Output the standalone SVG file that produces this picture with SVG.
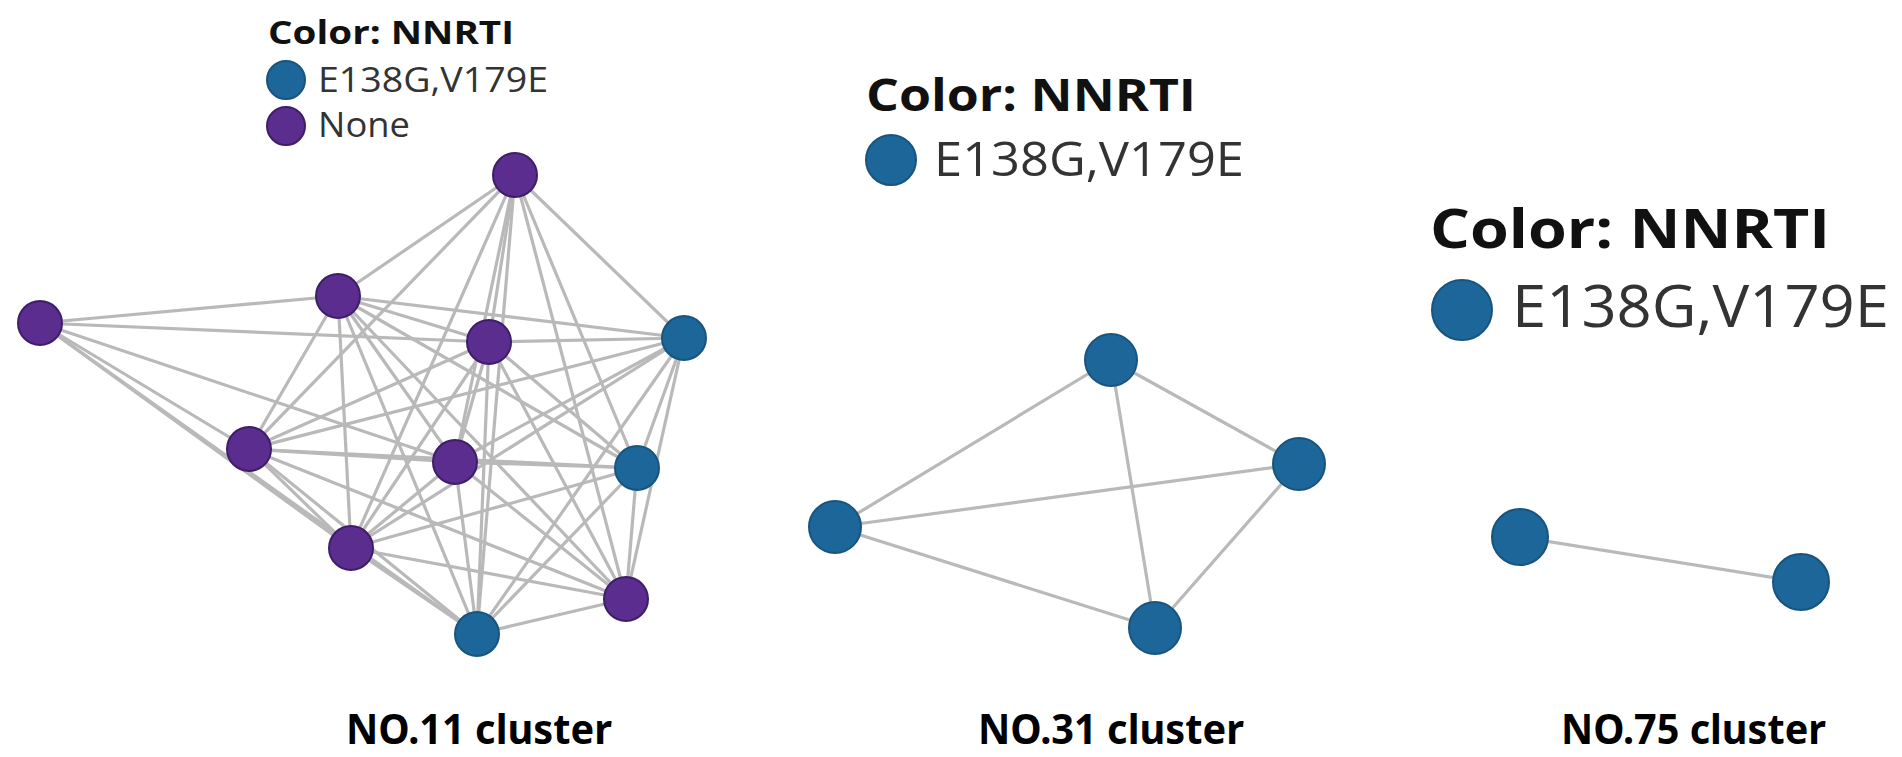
<svg xmlns="http://www.w3.org/2000/svg" width="1902" height="757" viewBox="0 0 1902 757">
<style>
.e{stroke:#b9b9b9;stroke-width:3.2;fill:none}
.p{fill:#5b2d8e;stroke:#3e1e68;stroke-width:2}
.b{fill:#1d6699;stroke:#17557f;stroke-width:2}
.t{font-family:"Open Sans","Noto Sans",sans-serif;font-weight:700;fill:#111}
.l{font-family:"Open Sans","Noto Sans",sans-serif;fill:#333}
.c{font-family:"Noto Sans","Open Sans",sans-serif;font-weight:700;fill:#000}
</style>
<rect width="1902" height="757" fill="#fff"/>
<g id="legend-11">
<text class="t" x="268" y="44" font-size="33" textLength="246" lengthAdjust="spacingAndGlyphs">Color: NNRTI</text>
<circle class="b" cx="286" cy="80" r="19"/>
<text class="l" x="318" y="92" font-size="34" textLength="230" lengthAdjust="spacingAndGlyphs">E138G,V179E</text>
<circle class="p" cx="286" cy="126" r="19"/>
<text class="l" x="318" y="137" font-size="34" textLength="92" lengthAdjust="spacingAndGlyphs">None</text>
</g>
<g id="connectors">
<line class="e" x1="515" y1="175" x2="338" y2="296"/>
<line class="e" x1="515" y1="175" x2="489" y2="342"/>
<line class="e" x1="515" y1="175" x2="684" y2="338"/>
<line class="e" x1="515" y1="175" x2="249" y2="449"/>
<line class="e" x1="515" y1="175" x2="455" y2="462"/>
<line class="e" x1="515" y1="175" x2="637" y2="468"/>
<line class="e" x1="515" y1="175" x2="351" y2="548"/>
<line class="e" x1="515" y1="175" x2="626" y2="599"/>
<line class="e" x1="515" y1="175" x2="477" y2="634"/>
<line class="e" x1="338" y1="296" x2="40" y2="323"/>
<line class="e" x1="338" y1="296" x2="489" y2="342"/>
<line class="e" x1="338" y1="296" x2="684" y2="338"/>
<line class="e" x1="338" y1="296" x2="249" y2="449"/>
<line class="e" x1="338" y1="296" x2="455" y2="462"/>
<line class="e" x1="338" y1="296" x2="637" y2="468"/>
<line class="e" x1="338" y1="296" x2="351" y2="548"/>
<line class="e" x1="338" y1="296" x2="626" y2="599"/>
<line class="e" x1="338" y1="296" x2="477" y2="634"/>
<line class="e" x1="40" y1="323" x2="489" y2="342"/>
<line class="e" x1="40" y1="323" x2="249" y2="449"/>
<line class="e" x1="40" y1="323" x2="455" y2="462"/>
<line class="e" x1="40" y1="323" x2="351" y2="548"/>
<line class="e" x1="40" y1="323" x2="477" y2="634"/>
<line class="e" x1="489" y1="342" x2="684" y2="338"/>
<line class="e" x1="489" y1="342" x2="249" y2="449"/>
<line class="e" x1="489" y1="342" x2="455" y2="462"/>
<line class="e" x1="489" y1="342" x2="637" y2="468"/>
<line class="e" x1="489" y1="342" x2="351" y2="548"/>
<line class="e" x1="489" y1="342" x2="626" y2="599"/>
<line class="e" x1="489" y1="342" x2="477" y2="634"/>
<line class="e" x1="684" y1="338" x2="249" y2="449"/>
<line class="e" x1="684" y1="338" x2="455" y2="462"/>
<line class="e" x1="684" y1="338" x2="637" y2="468"/>
<line class="e" x1="684" y1="338" x2="351" y2="548"/>
<line class="e" x1="684" y1="338" x2="626" y2="599"/>
<line class="e" x1="684" y1="338" x2="477" y2="634"/>
<line class="e" x1="249" y1="449" x2="455" y2="462"/>
<line class="e" x1="249" y1="449" x2="637" y2="468"/>
<line class="e" x1="249" y1="449" x2="351" y2="548"/>
<line class="e" x1="249" y1="449" x2="626" y2="599"/>
<line class="e" x1="249" y1="449" x2="477" y2="634"/>
<line class="e" x1="455" y1="462" x2="637" y2="468"/>
<line class="e" x1="455" y1="462" x2="351" y2="548"/>
<line class="e" x1="455" y1="462" x2="626" y2="599"/>
<line class="e" x1="455" y1="462" x2="477" y2="634"/>
<line class="e" x1="637" y1="468" x2="351" y2="548"/>
<line class="e" x1="637" y1="468" x2="626" y2="599"/>
<line class="e" x1="637" y1="468" x2="477" y2="634"/>
<line class="e" x1="351" y1="548" x2="626" y2="599"/>
<line class="e" x1="351" y1="548" x2="477" y2="634"/>
<line class="e" x1="626" y1="599" x2="477" y2="634"/>
<line class="e" x1="835" y1="527" x2="1111" y2="360"/>
<line class="e" x1="835" y1="527" x2="1299" y2="464"/>
<line class="e" x1="835" y1="527" x2="1155" y2="628"/>
<line class="e" x1="1111" y1="360" x2="1299" y2="464"/>
<line class="e" x1="1111" y1="360" x2="1155" y2="628"/>
<line class="e" x1="1299" y1="464" x2="1155" y2="628"/>
<line class="e" x1="1520" y1="537" x2="1801" y2="582"/>
</g>
<g id="n11-A"><circle class="p" cx="515" cy="175" r="22"/></g>
<g id="n11-B"><circle class="p" cx="338" cy="296" r="22"/></g>
<g id="n11-C"><circle class="p" cx="40" cy="323" r="22"/></g>
<g id="n11-D"><circle class="p" cx="489" cy="342" r="22"/></g>
<g id="n11-E"><circle class="b" cx="684" cy="338" r="22"/></g>
<g id="n11-F"><circle class="p" cx="249" cy="449" r="22"/></g>
<g id="n11-G"><circle class="p" cx="455" cy="462" r="22"/></g>
<g id="n11-H"><circle class="b" cx="637" cy="468" r="22"/></g>
<g id="n11-I"><circle class="p" cx="351" cy="548" r="22"/></g>
<g id="n11-J"><circle class="p" cx="626" cy="599" r="22"/></g>
<g id="n11-K"><circle class="b" cx="477" cy="634" r="22"/></g>
<g id="legend-31">
<text class="t" x="866" y="111" font-size="44" textLength="330" lengthAdjust="spacingAndGlyphs">Color: NNRTI</text>
<circle class="b" cx="891" cy="160" r="25"/>
<text class="l" x="934" y="176" font-size="47" textLength="310" lengthAdjust="spacingAndGlyphs">E138G,V179E</text>
</g>
<g id="n31-1"><circle class="b" cx="835" cy="527" r="26"/></g>
<g id="n31-2"><circle class="b" cx="1111" cy="360" r="26"/></g>
<g id="n31-3"><circle class="b" cx="1299" cy="464" r="26"/></g>
<g id="n31-4"><circle class="b" cx="1155" cy="628" r="26"/></g>
<g id="legend-75">
<text class="t" x="1430" y="248" font-size="53" textLength="400" lengthAdjust="spacingAndGlyphs">Color: NNRTI</text>
<circle class="b" cx="1462" cy="310" r="30"/>
<text class="l" x="1512" y="327" font-size="58" textLength="377" lengthAdjust="spacingAndGlyphs">E138G,V179E</text>
</g>
<g id="n75-1"><circle class="b" cx="1520" cy="537" r="28"/></g>
<g id="n75-2"><circle class="b" cx="1801" cy="582" r="28"/></g>
<g id="labels">
<text class="c" x="346" y="744" font-size="42" textLength="266" lengthAdjust="spacingAndGlyphs">NO.11 cluster</text>
<text class="c" x="978" y="744" font-size="42" textLength="266" lengthAdjust="spacingAndGlyphs">NO.31 cluster</text>
<text class="c" x="1561" y="744" font-size="42" textLength="265" lengthAdjust="spacingAndGlyphs">NO.75 cluster</text>
</g>
</svg>
